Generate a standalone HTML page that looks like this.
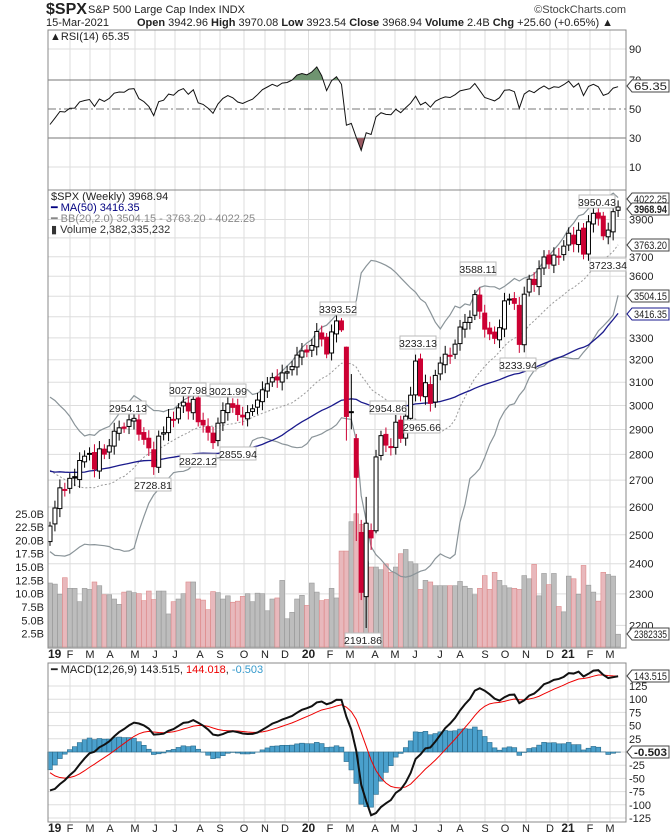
<!DOCTYPE html>
<html><head><meta charset="utf-8"><style>
body{margin:0;background:#fff;width:670px;height:838px;overflow:hidden}
svg{display:block;font-family:"Liberation Sans",sans-serif}
text{font-size:11px;fill:#222}
</style></head><body>
<svg id="s" width="670" height="838" viewBox="0 0 670 838">
<defs>
<clipPath id="cp"><rect x="48" y="190" width="578" height="458"/></clipPath>
<clipPath id="c70"><rect x="48" y="30" width="578" height="50"/></clipPath>
<clipPath id="c30"><rect x="48" y="138" width="578" height="52"/></clipPath>
</defs>
<rect x="0" y="0" width="670" height="838" fill="#fff"/>
<g id="grid"></g>
<g id="rsi"></g>
<g id="vol" clip-path="url(#cp)"></g>
<g id="price" clip-path="url(#cp)"></g>
<g id="macd"></g>
<rect x="48" y="30" width="578" height="160" fill="none" stroke="#888"/>
<rect x="48" y="190" width="578" height="458" fill="none" stroke="#888"/>
<rect x="48" y="663" width="578" height="159" fill="none" stroke="#888"/>
<text x="46" y="14" style="font-size:16px;font-weight:bold">$SPX</text>
<text x="88" y="13" style="font-size:11px">S&amp;P 500 Large Cap Index  INDX</text>
<text x="626" y="13" text-anchor="end" style="font-size:11px;fill:#444">©StockCharts.com</text>
<text x="46" y="26" style="font-size:11px">15-Mar-2021</text>
<text x="137" y="26" style="font-size:11px"><tspan font-weight="bold">Open</tspan> 3942.96 <tspan font-weight="bold">High</tspan> 3970.08 <tspan font-weight="bold">Low</tspan> 3923.54 <tspan font-weight="bold">Close</tspan> 3968.94 <tspan font-weight="bold">Volume</tspan> 2.4B <tspan font-weight="bold">Chg</tspan> +25.60 (+0.65%) ▲</text>
<text x="50" y="40">▲RSI(14) 65.35</text>
<g style="font-size:11px">
<text x="629" y="53">90</text><text x="629" y="84">70</text><text x="629" y="113">50</text><text x="629" y="142">30</text><text x="629" y="171">10</text>
</g>
<text x="51" y="200">$SPX (Weekly) 3968.94</text>
<text x="51" y="211" style="fill:#000080">━ MA(50) 3416.35</text>
<text x="51" y="222" style="fill:#888">━ BB(20,2.0) 3504.15 - 3763.20 - 4022.25</text>
<text x="51" y="233" style="fill:#333">▮ Volume 2,382,335,232</text>
<g id="plab"></g>
<g id="vlab"></g>
<text x="51" y="673">━ MACD(12,26,9) 143.515, <tspan fill="#e00">144.018</tspan>, <tspan fill="#3399cc">-0.503</tspan></text>
<g id="mlab"></g>
<g id="xl1"></g><g id="xl2"></g>
<g id="rb"></g>
<g id="ann"></g>
</svg>
<script>
var NS="http://www.w3.org/2000/svg";
function el(p,t,a,tx){var e=document.createElementNS(NS,t);for(var k in a)e.setAttribute(k,a[k]);if(tx!=null)e.textContent=tx;document.getElementById(p).appendChild(e);return e;}
var C=[2531,2596,2671,2665,2707,2708,2776,2793,2804,2743,2822,2801,2834,2893,2907,2905,2940,2946,2881,2860,2826,2752,2873,2887,2950,2942,2990,3014,2977,3026,2932,2919,2889,2847,2926,2979,3007,2992,2962,2952,2970,2986,3023,3067,3093,3120,3110,3141,3146,3169,3221,3240,
3235,3265,3330,3295,3226,3328,3380,3338,2954,2972,2711,2305,2541,2489,2790,2875,2837,2831,2930,2864,2955,3044,3194,3041,3098,3009,3130,3185,3225,3216,3271,3351,3373,3397,3508,3427,3341,3319,3298,3348,3477,3484,3465,3270,3510,3585,3558,3638,3699,3663,3709,3703,3756,
3825,3768,3841,3714,3887,3934,3907,3811,3842,3943,3969];
var N=C.length;
var V=[12,11.8,9.9,13,11,11,8.5,11,10.8,12.2,11.5,9.8,9.8,9,8,10.3,10.5,10.2,10,8.7,10.5,8.9,10.5,10.5,6.2,8.5,9,10,12.2,12.2,9,8.8,7,10.4,10.2,9,9.6,8.4,8.6,9.5,10,8.5,10.1,10,6.8,9,9.2,12.5,5.3,6.5,9,9.7,7.8,12,10.3,8.7,8.9,11,9.2,18,18,23.5,25,23,16,15,15,14.5,15.6,14,15,17.5,18.3,16,15.6,10.8,12.5,12.2,12.3,11.4,11,9.8,11,13.4,10.8,14,12.5,11.5,11.1,11,10.8,13.4,12.8,15.5,9.6,13.8,11.7,13.8,7.6,6.6,13.3,12.8,9.9,15.3,11.6,10.3,8.6,14,13.6,13.3,2.4];
while(V.length<N)V.splice(78,0,11.5);
var O=[],H=[],L=[];
for(var i=0;i<N;i++){var o=i?C[i-1]*(1+0.003*Math.sin(i*1.7)):2476;O[i]=o;var r=0.006+0.006*Math.abs(Math.sin(i*2.3));H[i]=Math.max(o,C[i])*(1+r);L[i]=Math.min(o,C[i])*(1-r);}
var ov={59:[3380,3393.5,3328,3338],60:[3257,3260,2855,2954],61:[2974,3136,2901,2972],62:[2863,2882,2478,2711],63:[2508,2553,2280,2305],64:[2291,2637,2192,2541],65:[2515,2540,2447,2489],66:[2514,2818,2505,2790]};
for(var k in ov){O[k]=ov[k][0];H[k]=ov[k][1];L[k]=ov[k][2];C[k]=ov[k][3];}
function X(i){return 50+i*4.94;}
function Y(p){return 6082-709*Math.log(p);}
var mx=[48,70,90,110,135,155,175,200,220,244,265,285,308.5,330,350,375,395,415,440,460,485,505,526,550,568,590,610];
var ml=["19","F","M","A","M","J","J","A","S","O","N","D","20","F","M","A","M","J","J","A","S","O","N","D","21","F","M"];
mx.forEach(function(x,j){[[30,190],[190,648],[663,822]].forEach(function(r){el("grid","line",{x1:x,x2:x,y1:r[0],y2:r[1],stroke:"#ddd"});});
 var b=(ml[j].length>1);[["xl1",658],["xl2",832]].forEach(function(q){el(q[0],"text",{x:x,y:q[1],"text-anchor":j==0?"start":"middle",style:"font-size:"+(b?"12px;font-weight:bold":"11px")},ml[j]);});});
[49,80,109,138,167].forEach(function(y,j){el("grid","line",{x1:48,x2:626,y1:y,y2:y,stroke:(j>=1&&j<=3)?"#777":"#ddd","stroke-dasharray":j==2?"8,3,2,3":""});});
[3900,3800,3700,3600,3500,3400,3300,3200,3100,3000,2900,2800,2700,2600,2500,2400,2300,2200].forEach(function(p){var y=Y(p);el("grid","line",{x1:48,x2:626,y1:y,y2:y,stroke:"#ddd"});if([3800,3500,3400].indexOf(p)<0)el("plab","text",{x:629,y:y+4},p);});
[25,22.5,20,17.5,15,12.5,10,7.5,5,2.5].forEach(function(v){el("vlab","text",{x:44,y:647-v*5.33+4,"text-anchor":"end"},v.toFixed(1)+"B");});
[125,100,75,50,25,0,-25,-50,-75,-100,-125].forEach(function(v){var y=752-v*0.528;el("grid","line",{x1:48,x2:626,y1:y,y2:y,stroke:"#ddd"});if(v!=0)el("mlab","text",{x:629,y:y+4},v);});
for(var i=0;i<N;i++){var dn=i&&C[i]<C[i-1];var h=V[i]*5.33;el("vol","rect",{x:X(i)-2.4,y:647-h,width:4.8,height:h,fill:dn?"#e8b8bc":"#bdbdbd",stroke:dn?"#d88":"#999","stroke-width":0.6});}
function sma(a,n,i){var s=0;for(var j=i-n+1;j<=i;j++)s+=a[Math.max(j,0)];return s/n;}
var pre=[2743,2786,2810,2872,2762,2619,2732,2747,2691,2786,2752,2588,2640,2604,2656,2670,2670,2663,2728,2727,2712,2721,2735,2779,2754,2718,2736,2760,2801,2818,2840,2850,2833,2850,2874,2901,2872,2905,2929,2913,2885,2767,2768,2658,2724,2781,2736,2632,2760,2633,2600,2416,2486];
pre=pre.slice(pre.length-50);
var mid=[],up=[],lo=[],ma=[];var CC=pre.concat(C);
for(var i=0;i<N;i++){var ii=i+50;var m=sma(CC,20,ii);var sd=0;for(var j=ii-19;j<=ii;j++)sd+=(CC[j]-m)*(CC[j]-m);sd=Math.sqrt(sd/20);mid[i]=m;up[i]=m+2*sd;lo[i]=m-2*sd;ma[i]=sma(CC,50,ii);}
function pl(a){return a.map(function(v,i){return X(i).toFixed(1)+","+Y(v).toFixed(1);}).join(" ");}
el("price","polyline",{points:pl(up),fill:"none",stroke:"#8a9499","stroke-width":1.2});
el("price","polyline",{points:pl(lo),fill:"none",stroke:"#8a9499","stroke-width":1.2});
el("price","polyline",{points:pl(mid),fill:"none",stroke:"#999","stroke-width":1,"stroke-dasharray":"2,2"});
el("price","polyline",{points:pl(ma),fill:"none",stroke:"#1a1a8c","stroke-width":1.3});
for(var i=0;i<N;i++){var x=X(i),red=i&&C[i]<C[i-1],col=red?"#cc0033":"#000";
 el("price","line",{x1:x,x2:x,y1:Y(H[i]),y2:Y(L[i]),stroke:col});
 var t=Y(Math.max(O[i],C[i])),b=Y(Math.min(O[i],C[i]));
 el("price","rect",{x:x-2,y:t,width:4,height:Math.max(b-t,1),fill:C[i]<O[i]?col:"#fff",stroke:col,"stroke-width":1});}
var rs=[],ag=0,al=0;
for(var j=1;j<CC.length;j++){var d=CC[j]-CC[j-1];var g=d>0?d:0,l=d<0?-d:0;if(j<=14){ag+=g/14;al+=l/14;}else{ag=(ag*13+g)/14;al=(al*13+l)/14;}if(j>=50)rs.push(100-100/(1+ag/(al||1e-9)));}
rs=rs.slice(rs.length-N);
function ry(v){return 109-(v-50)*1.45;}
var rp=rs.map(function(v,i){return X(i).toFixed(1)+","+ry(v).toFixed(1);}).join(" ");
el("rsi","polygon",{points:X(0)+",80 "+rp+" "+X(N-1)+",80",fill:"#6f9470","clip-path":"url(#c70)"});
el("rsi","polygon",{points:X(0)+",138 "+rp+" "+X(N-1)+",138",fill:"#9a5a62","clip-path":"url(#c30)"});
el("rsi","polyline",{points:rp,fill:"none",stroke:"#111","stroke-width":1});
var e12=CC[0],e26=CC[0],mc=[],sg=[],sgv=0;
for(var j=0;j<CC.length;j++){e12=e12+(CC[j]-e12)*2/13;e26=e26+(CC[j]-e26)*2/27;var m=e12-e26;sgv=j?sgv+(m-sgv)*0.2:m;if(j>=50){mc.push(m);sg.push(sgv);}}
function my(v){return 752-v*0.528;}
for(var i=0;i<N;i++){var h=mc[i]-sg[i];var y=my(h);el("macd","rect",{x:X(i)-2.4,y:Math.min(y,752),width:4.8,height:Math.abs(y-752),fill:"#4aa0cc",stroke:"#2a6a8a","stroke-width":0.6});}
el("macd","polyline",{points:sg.map(function(v,i){return X(i)+","+my(v);}).join(" "),fill:"none",stroke:"#e00","stroke-width":1});
el("macd","polyline",{points:mc.map(function(v,i){return X(i)+","+my(v);}).join(" "),fill:"none",stroke:"#111","stroke-width":2});
function rbx(y,t,bold,stroke){var w=669-632;el("rb","path",{d:"M627,"+y+" l5,-6 h"+w+" v12 h-"+w+" z",fill:"#fff",stroke:stroke||"#444"});el("rb","text",{x:634,y:y+4,textLength:33,lengthAdjust:"spacingAndGlyphs",style:bold?"font-weight:bold":""},t);}
rbx(86,"65.35");rbx(199,"4022.25");rbx(209,"3968.94",1);rbx(245,"3763.20");rbx(296,"3504.15");rbx(314,"3416.35",0,"#1a1a8c");rbx(634,"2382335");rbx(676,"143.515");rbx(752,"-0.503","#2a6a8a");
[["2954.13",128,408],["3027.98",188,390],["3021.99",228,391],["3393.52",338,309],["3233.13",418,343],["3588.11",478,269],["3950.43",597,202],["2954.86",388,408],["2965.66",422,427],["3233.94",518,365],["3723.34",608,265],["2822.12",198,461],["2855.94",238,454],["2728.81",153,485],["2191.86",363,640]].forEach(function(a){el("ann","rect",{x:a[1]-18,y:a[2]-7,width:36,height:13,fill:"#fff",stroke:"#bbb"});el("ann","text",{x:a[1],y:a[2]+4,"text-anchor":"middle",style:"font-size:10.5px"},a[0]);});
</script>
</body></html>
